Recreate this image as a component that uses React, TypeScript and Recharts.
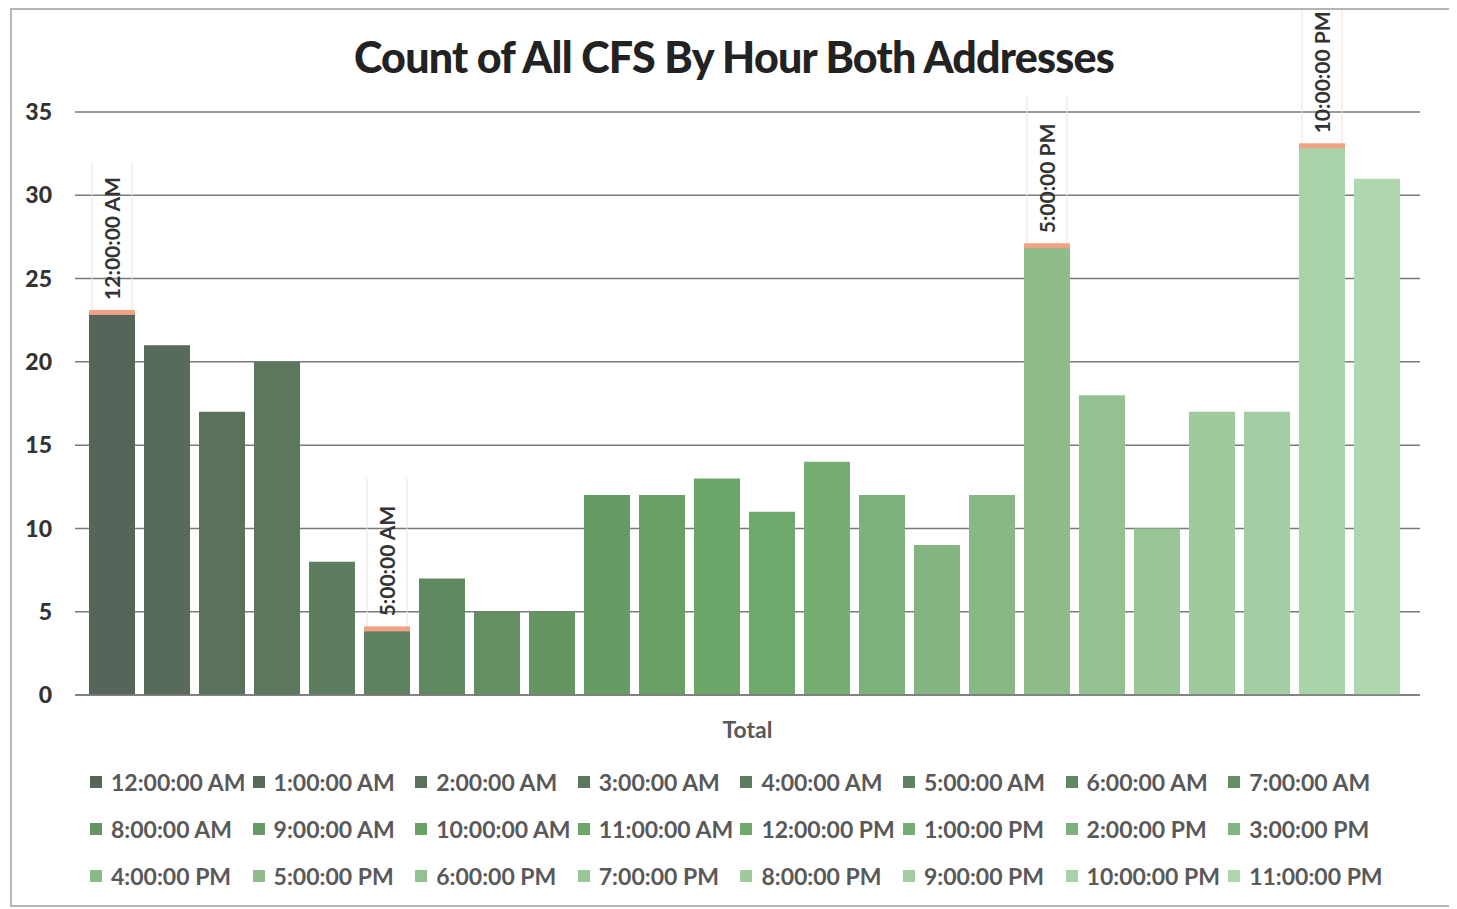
import React from "react";
import { BarChart, Bar, XAxis, YAxis, CartesianGrid, Legend } from "recharts";

const categories = ["Total"];
const hours = [
  "12:00:00 AM", "1:00:00 AM", "2:00:00 AM", "3:00:00 AM", "4:00:00 AM", "5:00:00 AM",
  "6:00:00 AM", "7:00:00 AM", "8:00:00 AM", "9:00:00 AM", "10:00:00 AM", "11:00:00 AM",
  "12:00:00 PM", "1:00:00 PM", "2:00:00 PM", "3:00:00 PM", "4:00:00 PM", "5:00:00 PM",
  "6:00:00 PM", "7:00:00 PM", "8:00:00 PM", "9:00:00 PM", "10:00:00 PM", "11:00:00 PM",
];
const counts = [23, 21, 17, 20, 8, 4, 7, 5, 5, 12, 12, 13, 11, 14, 12, 9, 12, 27, 18, 10, 17, 17, 33, 31];
const labeledHours = ["12:00:00 AM", "5:00:00 AM", "5:00:00 PM", "10:00:00 PM"];
const yTicks = [0, 5, 10, 15, 20, 25, 30, 35];

const colors = [
  "#55655a", "#586b5b", "#5a715c", "#5c775e", "#5e7d5f", "#5f8360",
  "#618961", "#638f62", "#659563", "#679b64", "#69a065", "#6ba567",
  "#70a96c", "#76ad72", "#7cb179", "#82b57f", "#88b985", "#8ebd8b",
  "#94c191", "#9ac597", "#a0c99d", "#a5cda3", "#a8d2a8", "#b0d6ae",
];

const data = categories.map((c) => {
  const row: Record<string, any> = { name: c };
  hours.forEach((h, i) => {
    row["h" + i] = counts[i];
  });
  return row;
});

const FONT = "Lato, 'Open Sans', sans-serif";

const makeLabel = (hour: string) => (props: any) => {
  const { x, y, width } = props;
  if (x == null || y == null) return null;
  const cx = x + width / 2;
  return (
    <g>
      <line x1={x + 3} x2={x + 3} y1={y - 150} y2={y} stroke="#f6dfd5" strokeWidth={1} />
      <line x1={x + width - 3} x2={x + width - 3} y1={y - 150} y2={y} stroke="#f6dfd5" strokeWidth={1} />
      <rect x={x} y={y - 2} width={width} height={5} fill="#f0a384" />
      <text
        x={cx}
        y={y - 12}
        transform={`rotate(-90 ${cx} ${y - 12})`}
        textAnchor="start"
        dominantBaseline="central"
        fontFamily={FONT}
        fontWeight={700}
        fontSize={21}
        fill="#333333"
      >
        {hour}
      </text>
    </g>
  );
};

const LegendContent = (props: any) => {
  const payload = [...(props.payload || [])].sort(
    (a: any, b: any) => hours.indexOf(a.value) - hours.indexOf(b.value)
  );
  return (
    <div
      style={{
        height: 141,
        width: 1440,
        paddingLeft: 78,
        boxSizing: "border-box",
        display: "flex",
        flexWrap: "wrap",
        alignContent: "flex-start",
      }}
    >
      {payload.map((p: any, i: number) => (
        <div
          key={i}
          style={{
            width: 162.6,
            height: 47,
            display: "flex",
            alignItems: "center",
            whiteSpace: "nowrap",
            fontFamily: FONT,
            fontWeight: 700,
            fontSize: 23,
            color: "#595959",
          }}
        >
          <span style={{ display: "inline-block", width: 12, height: 12, background: p.color, marginRight: 9 }} />
          <span>{p.value}</span>
        </div>
      ))}
    </div>
  );
};

export default function App() {
  return (
    <div
      style={{
        position: "relative",
        marginLeft: 2,
        width: 1440,
        height: 895,
        border: "2px solid #b5b5b5",
        background: "#fff",
      }}
    >
      <div
        style={{
          position: "absolute",
          left: 0,
          top: 25,
          width: 1444,
          textAlign: "center",
          fontFamily: FONT,
          fontWeight: 900,
          fontSize: 43,
          lineHeight: 1,
          color: "#222222",
          letterSpacing: -0.8,
          zIndex: 2,
        }}
      >
        Count of All CFS By Hour Both Addresses
      </div>
      <BarChart
        width={1440}
        height={895}
        data={data}
        margin={{ top: 102, right: 32, bottom: 6, left: 0 }}
        barCategoryGap={14}
        barGap={9}
      >
        <CartesianGrid vertical={false} stroke="#7a7a7a" strokeWidth={1.5} />
        <XAxis
          dataKey="name"
          height={63}
          tickLine={false}
          tickSize={0}
          tickMargin={27}
          axisLine={{ stroke: "#7a7a7a", strokeWidth: 1.5 }}
          tick={{ fontFamily: FONT, fontWeight: 700, fontSize: 23, fill: "#595959" }}
        />
        <YAxis
          width={63}
          domain={[0, 35]}
          ticks={yTicks}
          interval={0}
          axisLine={false}
          tickLine={false}
          tickSize={0}
          tickMargin={23}
          tick={{ fontFamily: FONT, fontWeight: 900, fontSize: 23, fill: "#333333" }}
        />
        <Legend verticalAlign="bottom" align="left" wrapperStyle={{ left: 0, width: 1440 }} content={<LegendContent />} />
        {hours.map((h, i) => (
          <Bar
            key={h}
            dataKey={"h" + i}
            name={h}
            fill={colors[i]}
            isAnimationActive={false}
            label={labeledHours.includes(h) ? makeLabel(h) : undefined}
          />
        ))}
      </BarChart>
    </div>
  );
}
